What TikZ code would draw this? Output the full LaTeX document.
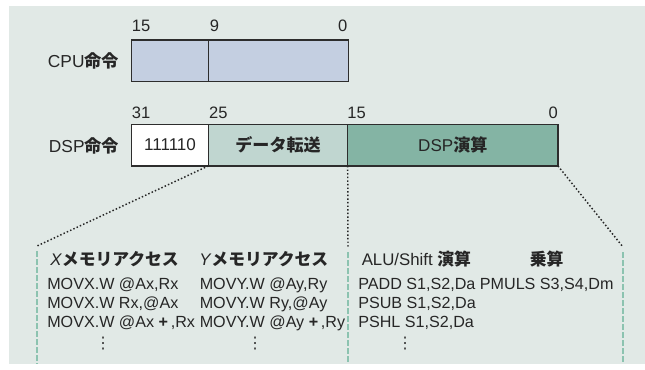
\documentclass[tikz,border=0pt]{standalone}
\usepackage{fontspec}
\setmainfont{Liberation Sans}
\newfontfamily\jp{Noto Sans CJK JP}
\newfontfamily\dv{DejaVu Sans}
\definecolor{bgc}{RGB}{225,233,230}
\definecolor{cpuc}{RGB}{196,207,225}
\definecolor{dtc}{RGB}{192,214,208}
\definecolor{dspc}{RGB}{132,180,164}
\definecolor{dashc}{RGB}{140,195,176}
\definecolor{linec}{RGB}{45,45,45}
\newcommand{\jb}[1]{{\jp\bfseries #1}}
\tikzset{
  fieldbox/.style={draw=linec, line width=1.1pt, inner sep=0pt, outer sep=0pt, anchor=north west, minimum height=31.2pt},
  boxtext/.style={font=\fontsize{12.8pt}{14pt}\selectfont, text=black!85},
  bitlabel/.style={font=\fontsize{12.4pt}{14pt}\selectfont, inner sep=0pt, text=black!85},
  rowlabel/.style={font=\fontsize{13pt}{14pt}\selectfont, inner sep=0pt, anchor=east, text=black!85},
  header/.style={font=\fontsize{12.6pt}{14pt}\selectfont, inner sep=0pt, anchor=west, text=black!85},
  body/.style={font=\fontsize{12.1pt}{14pt}\selectfont, inner sep=0pt, anchor=base west, text=black!85},
  vdot/.style={inner sep=0pt, font=\dv\fontsize{12pt}{12pt}\selectfont, text=black!80},
  dotline/.style={line width=1.1pt, dash pattern=on 1.1pt off 1.6pt, black!85},
  greendash/.style={line width=1.1pt, dash pattern=on 4.5pt off 1.5pt, dashc}
}
\begin{document}
\begin{tikzpicture}[x=0.75pt,y=-0.75pt]
\useasboundingbox (0,0) rectangle (645,369);
\fill[bgc] (9,6) rectangle (645,364);

% CPU instruction
\node[fieldbox, fill=cpuc, minimum width=57.5pt, minimum height=31.1pt] (cpuA) at (131.7,40.2) {};
\node[fieldbox, fill=cpuc, minimum width=105pt, minimum height=31.1pt] (cpuB) at (cpuA.north east) {};
\node[rowlabel] (cpulab) at (119.5,60.5) {CPU\jb{命令}};
\node[bitlabel, anchor=west] (c15) at (131.7,25.7) {15};
\node[bitlabel, anchor=west] (c9) at (209.5,25.7) {9};
\node[bitlabel, anchor=east] (c0) at (347.5,25.7) {0};

% DSP instruction
\node[fieldbox, fill=white, minimum width=57.5pt] (dspA) at (131.7,124.3) {};
\node[fieldbox, fill=dtc, minimum width=104.5pt] (dspB) at (dspA.north east) {};
\node[fieldbox, fill=dspc, minimum width=157.7pt] (dspC) at (dspB.north east) {};
\node[boxtext] (tA) at (dspA.center) {111110};
\node[boxtext] (tB) at (dspB.center) {\jb{データ転送}};
\node[boxtext] (tC) at (dspC.center) {DSP\jb{演算}};
\node[rowlabel] (dsplab) at (119.5,145.5) {DSP\jb{命令}};
\node[bitlabel, anchor=west] (d31) at (131.7,112.5) {31};
\node[bitlabel, anchor=west] (d25) at (208.8,112.5) {25};
\node[bitlabel, anchor=west] (d15) at (347.2,112.5) {15};
\node[bitlabel, anchor=east] (d0) at (558,112.5) {0};

% expansion lines
\coordinate (lt) at (37,246);
\coordinate (mt) at (348,247);
\coordinate (rt) at (623,247);
\coordinate (lb) at (37,364);
\coordinate (mb) at (348,364);
\coordinate (rb) at (623,364);
\coordinate (ls) at (37,251);
\coordinate (ms) at (348,252);
\coordinate (rs) at (623,252);
\draw[dotline] (dspA.south east) -- (lt);
\draw[dotline] (dspB.south east) -- (mt);
\draw[dotline] (dspC.south east) -- (rt);
\draw[greendash] (ls) -- (lb);
\draw[greendash] (ms) -- (mb);
\draw[greendash] (rs) -- (rb);

% headers
\node[header] (hx) at (50,259.5) {\textit{X}\jb{メモリアクセス}};
\node[header] (hy) at (199,259.5) {\textit{Y}\jb{メモリアクセス}};
\node[header] (ha) at (361.5,259.5) {ALU/Shift \jb{演算}};
\node[header] (hm) at (529.5,259.5) {\jb{乗算}};

% bodies
\node[body] (bx1) at (47,289) {MOVX.W @Ax,Rx};
\node[body] (bx2) at (47,308) {MOVX.W Rx,@Ax};
\node[body] (bx3) at (47,327) {MOVX.W @Ax \textbf{+}\,,Rx};
\node[body] (by1) at (199.5,289) {MOVY.W @Ay,Ry};
\node[body] (by2) at (199.5,308) {MOVY.W Ry,@Ay};
\node[body] (by3) at (199.5,327) {MOVY.W @Ay \textbf{+}\,,Ry};
\node[body] (ba1) at (358,289) {PADD S1,S2,Da PMULS S3,S4,Dm};
\node[body] (ba2) at (358,308) {PSUB S1,S2,Da};
\node[body] (ba3) at (358,327) {PSHL S1,S2,Da};
\node[vdot] (vx) at (103,344) {⋮};
\node[vdot] (vy) at (255,344) {⋮};
\node[vdot] (va) at (405,344) {⋮};
\end{tikzpicture}
\end{document}
